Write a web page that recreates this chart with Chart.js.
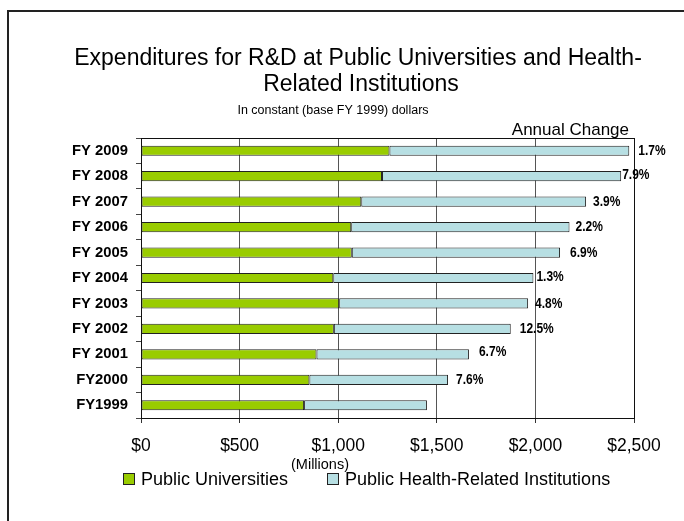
<!DOCTYPE html>
<html lang="en">
<head>
  <meta charset="UTF-8">
  <title>R&amp;D Expenditures - Public Universities and Health-Related Institutions</title>
  <script src="https://cdn.jsdelivr.net/npm/chart.js"></script>
  <style>
    html, body { margin: 0; padding: 0; background: #fff; overflow: hidden; }
    .frame { position: absolute; left: 7px; top: 10px; width: 720px; height: 560px; border: 2px solid #222; }
    #rdChart { position: absolute; left: 0; top: 0; }
  </style>
</head>
<body>
  <div class="frame"></div>
  <canvas id="rdChart" width="684" height="521"></canvas>
  <script>
    // Fiscal years, oldest first (drawn bottom to top)
    const categories = ['FY1999', 'FY2000', 'FY 2001', 'FY 2002', 'FY 2003', 'FY 2004',
                        'FY 2005', 'FY 2006', 'FY 2007', 'FY 2008', 'FY 2009'];
    // $ millions, constant FY 1999 dollars
    const universities = [827, 854, 890, 978, 1005, 975, 1069, 1066, 1117, 1222, 1260];
    const healthInstitutions = [623, 703, 773, 897, 958, 1015, 1056, 1107, 1140, 1213, 1216];
    // Annual change of the combined total, percent
    const annualChange = [null, 7.6, 6.7, 12.5, 4.8, 1.3, 6.9, 2.2, 3.9, 7.9, 1.7];
    const xTicks = [0, 500, 1000, 1500, 2000, 2500];

    // where each change label sits relative to the end of its bar (px)
    const labelShift = [0, 8, 10, 9, 7, 3, 10, 6, 7, 1, 9];
    const labelLift = [0, 0, -3, 0, 0, -1, 0, 0, 0, -1, 0];

    const GREEN = '#99CC00';
    const BLUE = '#B7DFE3';
    const SANS = '"Liberation Sans", Arial, sans-serif';

    Chart.defaults.font.family = SANS;
    Chart.defaults.color = '#000';

    const overlay = {
      id: 'overlay',
      afterDatasetsDraw(chart) {
        const { ctx, chartArea: a } = chart;
        ctx.save();
        // top edge of the plot frame
        ctx.strokeStyle = '#111';
        ctx.lineWidth = 1;
        ctx.beginPath();
        ctx.moveTo(a.left, Math.round(a.top) + 0.5);
        ctx.lineTo(a.right, Math.round(a.top) + 0.5);
        ctx.stroke();

        // annual change labels at the end of each stacked bar, condensed bold
        const meta = chart.getDatasetMeta(1);
        ctx.font = 'bold 15px ' + SANS;
        ctx.textBaseline = 'middle';
        ctx.textAlign = 'left';
        ctx.fillStyle = '#000';
        meta.data.forEach((bar, i) => {
          if (annualChange[i] == null) return;
          ctx.save();
          ctx.translate(bar.x + labelShift[i], bar.y + labelLift[i]);
          ctx.scale(0.8, 1);
          ctx.fillText(annualChange[i].toFixed(1) + '%', 0, 0);
          ctx.restore();
        });
        ctx.restore();
      },
      afterDraw(chart) {
        const ctx = chart.ctx;
        ctx.save();
        ctx.fillStyle = '#000';
        ctx.textBaseline = 'middle';

        ctx.textAlign = 'center';
        ctx.font = '23px ' + SANS;
        ctx.fillText('Expenditures for R&D at Public Universities and Health-', 358, 59);
        ctx.fillText('Related Institutions', 361, 85);
        ctx.font = '12.5px ' + SANS;
        ctx.fillText('In constant (base FY 1999) dollars', 333, 111);
        ctx.font = '14.5px ' + SANS;
        ctx.fillText('(Millions)', 320, 465);

        ctx.textAlign = 'right';
        ctx.font = '17px ' + SANS;
        ctx.fillText('Annual Change', 629, 130);

        // legend
        ctx.textAlign = 'left';
        ctx.font = '18px ' + SANS;
        const legendX = [123, 327];
        chart.data.datasets.forEach((ds, i) => {
          const x = legendX[i];
          ctx.fillStyle = ds.backgroundColor;
          ctx.fillRect(x, 473, 12, 12);
          ctx.strokeStyle = '#222';
          ctx.lineWidth = 1;
          ctx.strokeRect(x + 0.5, 473.5, 11, 11);
          ctx.fillStyle = '#000';
          ctx.fillText(ds.label, x + 18, 480);
        });
        ctx.restore();
      }
    };

    const ctx = document.getElementById('rdChart').getContext('2d');
    new Chart(ctx, {
      type: 'bar',
      data: {
        labels: categories,
        datasets: [
          {
            label: 'Public Universities',
            data: universities,
            backgroundColor: GREEN,
            borderColor: '#222',
            borderWidth: 1,
            borderSkipped: false,
            barPercentage: 0.4,
            categoryPercentage: 1.0
          },
          {
            label: 'Public Health-Related Institutions',
            data: healthInstitutions,
            backgroundColor: BLUE,
            borderColor: '#222',
            borderWidth: 1,
            borderSkipped: false,
            barPercentage: 0.4,
            categoryPercentage: 1.0
          }
        ]
      },
      options: {
        responsive: false,
        animation: false,
        indexAxis: 'y',
        layout: { padding: { top: 138, right: 50, left: 0, bottom: 0 } },
        plugins: {
          legend: { display: false },
          title: { display: false },
          tooltip: { enabled: false }
        },
        scales: {
          x: {
            stacked: true,
            min: 0,
            max: 2500,
            afterBuildTicks: s => { s.ticks = xTicks.map(v => ({ value: v })); },
            afterFit: s => { s.height = 103; },
            ticks: {
              padding: 13,
              color: '#000',
              font: { size: 17.5 },
              callback: v => '$' + v.toLocaleString('en-US')
            },
            grid: {
              color: c => (c.tick && c.tick.value === 2500 ? '#111' : '#555'),
              tickColor: '#333',
              tickLength: 5,
              lineWidth: 1
            },
            border: { color: '#111', width: 1 }
          },
          y: {
            stacked: true,
            reverse: true,
            afterFit: s => { s.width = 141; },
            ticks: {
              padding: 8,
              color: '#000',
              font: { size: 14.8, weight: 'bold' }
            },
            grid: { drawOnChartArea: false, tickLength: 5, tickColor: '#444', offset: true },
            border: { color: '#111', width: 1 }
          }
        }
      },
      plugins: [overlay]
    });
  </script>
</body>
</html>
